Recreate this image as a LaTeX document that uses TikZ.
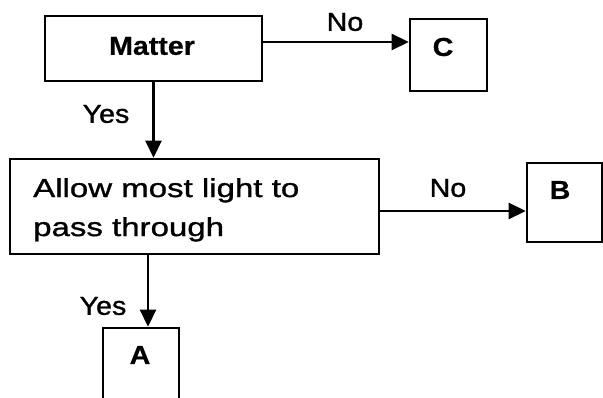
\documentclass[tikz,border=0pt]{standalone}
\usepackage{fontspec}
\setmainfont{Liberation Sans}[FakeStretch=1.1, FakeBold=1.2, BoldFeatures={FakeBold=0.6}]
\newfontfamily\widefont{Liberation Sans}[FakeStretch=1.27, FakeBold=1.2]
\usetikzlibrary{arrows.meta}
\begin{document}
\begin{tikzpicture}[x=1pt,y=1pt,
  box/.style={draw, line width=2.6pt, rectangle, inner sep=0pt},
  txt/.style={font=\fontsize{26}{39}\selectfont, inner sep=0pt},
  btxt/.style={font=\bfseries\fontsize{26}{39}\selectfont, inner sep=0pt},
  arr/.style={line width=2.6pt, -{Triangle[length=17pt,width=16pt]}}]
\useasboundingbox (0,0) rectangle (603,397);
\clip (0,0) rectangle (603,397);
% boxes
\node[box, minimum width=217pt, minimum height=65pt] (Matter) at (153.5,348.5) {};
\node[box, minimum width=77pt, minimum height=72pt] (C) at (448.5,342) {};
\node[box, minimum width=369pt, minimum height=95pt] (Allow) at (194.5,190.5) {};
\node[box, minimum width=75pt, minimum height=79pt] (B) at (564.5,194.5) {};
\node[box, minimum width=76pt, minimum height=89pt] (A) at (141,24.5) {};
% box texts
\node[btxt] (tMatter) at (152,351) {Matter};
\node[btxt] (tC) at (443,350) {C};
\node[btxt] (tB) at (560,207) {B};
\node[btxt] (tA) at (140,42) {A};
\node[txt, font=\widefont\fontsize{26}{39}\selectfont, align=left, anchor=north west] (tAllow) at (33,219) {Allow most light to\\pass through};
% connectors
\draw[arr] ([yshift=6.5pt]Matter.east) -- ([yshift=6.5pt]Matter.east -| C.west);
\draw[arr] (Matter.south) -- (Matter.south |- Allow.north);
\draw[arr] ([yshift=-4.5pt]Allow.east) -- ([yshift=-4.5pt]Allow.east -| B.west);
\coordinate (Ain) at ([xshift=7pt]A.north);
\draw[arr] (Allow.south -| Ain) -- (Ain);
% labels
\node[txt] (l1) at (345,375) {No};
\node[txt] (l2) at (106,283) {Yes};
\node[txt] (l3) at (448,209) {No};
\node[txt] (l4) at (103,91) {Yes};
\end{tikzpicture}
\end{document}
